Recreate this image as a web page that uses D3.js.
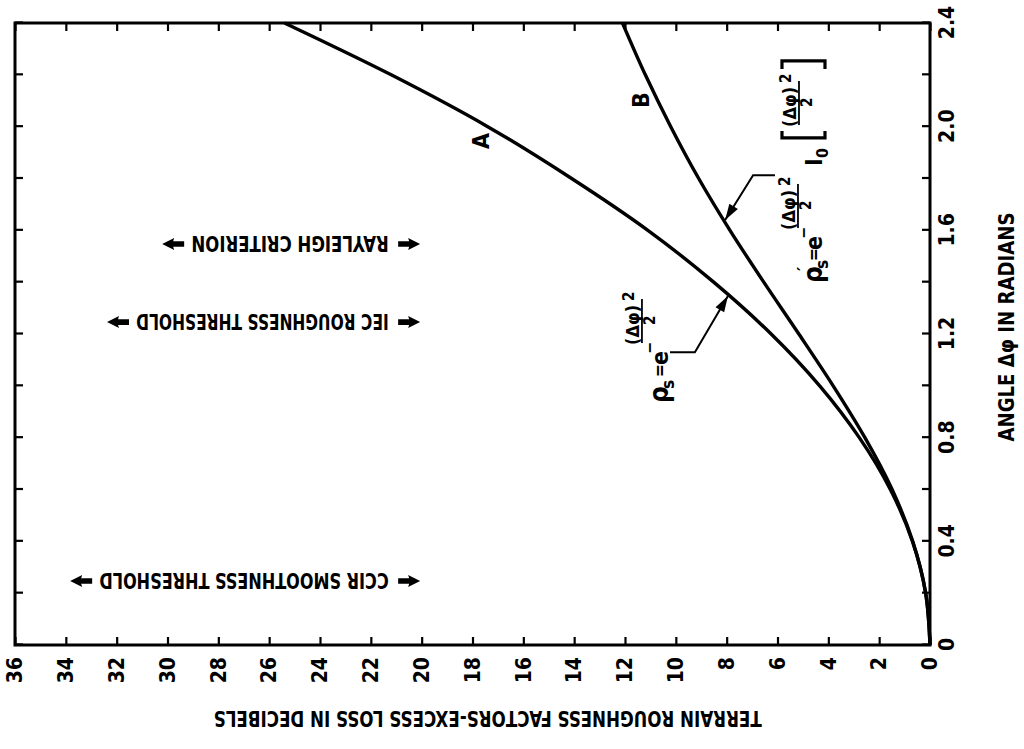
<!DOCTYPE html>
<html>
<head>
<meta charset="utf-8">
<script src="https://cdn.jsdelivr.net/npm/d3@7"></script>
<style>
  body { margin: 0; background: #fff; }
  text { font-family: "Liberation Sans Narrow", "DejaVu Sans Condensed", "Liberation Sans", sans-serif; font-weight: bold; fill: #000; }
</style>
</head>
<body>
<div id="chart"></div>
<script>
// Values (angle in radians, excess loss in dB)
const angle = [0, 0.2, 0.4, 0.6, 0.8, 1.0, 1.2, 1.4, 1.6, 1.8, 2.0, 2.2, 2.4];
const lossA = [0, 0.17, 0.69, 1.56, 2.78, 4.34, 6.25, 8.51, 11.1, 14.1, 17.4, 21.2, 25.4];
const lossB = [0, 0.17, 0.68, 1.49, 2.56, 3.81, 5.16, 6.54, 7.87, 9.10, 10.2, 11.2, 12.1];

const angleTicks = [0, 0.2, 0.4, 0.6, 0.8, 1.0, 1.2, 1.4, 1.6, 1.8, 2.0, 2.2, 2.4];
const angleLabels = [0, 0.4, 0.8, 1.2, 1.6, 2.0, 2.4];
const lossTicks = [0, 2, 4, 6, 8, 10, 12, 14, 16, 18, 20, 22, 24, 26, 28, 30, 32, 34, 36];

// threshold markers: angle where they sit and loss where the upper arrow tip ends
const thresholdNames = ['CCIR SMOOTHNESS THRESHOLD', 'IEC ROUGHNESS THRESHOLD', 'RAYLEIGH CRITERION'];
const thresholdAngles = [0.247, 1.246, 1.547];
const thresholdTips = [33.83, 32.38, 30.21];

// curve labels
const curveNames = ['A', 'B'];
const curveLabelAt = [[1.945, 17.66], [2.103, 11.37]];

// leader lines from the formulas to the curves (angle, loss)
const leaderA = [[1.13, 10.23], [1.13, 9.25], [1.347, 7.95]];
const leaderB = [[1.813, 6.10], [1.813, 6.96], [1.640, 8.06]];

const width = 1024, height = 749;
const W = 622, H = 915;   // angle axis length, loss axis length

const svg = d3.select('#chart').append('svg')
    .attr('width', width)
    .attr('height', height)
    .style('background', '#fff');

// the whole figure is printed turned a quarter turn counter-clockwise
const g = svg.append('g').attr('transform', 'translate(15,645) rotate(-90)');

const x = d3.scaleLinear().domain([0, 2.4]).range([0, W]);
const y = d3.scaleLinear().domain([0, 36]).range([H, 0]);

const fmtAngle = d => d === 0 ? '0' : d3.format('.1f')(d);

// axes with inward ticks on all four sides
g.append('g')
    .attr('transform', `translate(0,${H})`)
    .call(d3.axisBottom(x).tickValues(angleTicks).tickSize(-8).tickPadding(9)
        .tickFormat(d => angleLabels.includes(d) ? fmtAngle(d) : ''));
g.append('g')
    .call(d3.axisTop(x).tickValues(angleTicks).tickSize(-8).tickFormat(''));
g.append('g')
    .call(d3.axisLeft(y).tickValues(lossTicks).tickSize(-8).tickPadding(12));
g.append('g')
    .attr('transform', `translate(${W},0)`)
    .call(d3.axisRight(y).tickValues(lossTicks).tickSize(-8).tickFormat(''));

g.selectAll('.domain').remove();
g.selectAll('.tick line').attr('stroke', '#000').attr('stroke-width', 2.2);
g.selectAll('.tick text').attr('font-size', 21).attr('fill', '#000');

g.append('rect')
    .attr('width', W).attr('height', H)
    .attr('fill', 'none').attr('stroke', '#000').attr('stroke-width', 3);

// axis titles
g.append('text')
    .attr('x', x(1.227)).attr('y', H + 84)
    .attr('text-anchor', 'middle')
    .attr('font-size', 22)
    .attr('textLength', 229).attr('lengthAdjust', 'spacingAndGlyphs')
    .text('ANGLE  \u0394\u03c6  IN RADIANS');

g.append('text')
    .attr('transform', `translate(-73,${y(17.4)}) rotate(-90)`)
    .attr('text-anchor', 'middle')
    .attr('dy', '0.35em')
    .attr('font-size', 21)
    .attr('textLength', 548).attr('lengthAdjust', 'spacingAndGlyphs')
    .text('TERRAIN ROUGHNESS FACTORS-EXCESS LOSS  IN DECIBELS');

// curves
const line = d3.line()
    .x(d => x(d[0]))
    .y(d => y(d[1]))
    .curve(d3.curveMonotoneX);

[lossA, lossB].forEach(vals => {
    g.append('path')
        .datum(angle.map((a, i) => [a, vals[i]]))
        .attr('d', line)
        .attr('fill', 'none')
        .attr('stroke', '#000')
        .attr('stroke-width', 3.4);
});

curveNames.forEach((n, i) => {
    g.append('text')
        .attr('x', x(curveLabelAt[i][0])).attr('y', y(curveLabelAt[i][1]))
        .attr('text-anchor', 'middle').attr('dy', '0.35em')
        .attr('font-size', 23)
        .text(n);
});

// threshold markers: vertical text with arrow darts at both ends
function dart(tx, ty, dir) {
    // tip at (tx,ty), pointing along dir (+1 down, -1 up)
    const p = [[0, 0], [-6, -12], [-2.8, -11], [-2.8, -22], [2.8, -22], [2.8, -11], [6, -12]]
        .map(q => [tx + q[0], ty + dir * q[1]]);
    return 'M' + p.join('L') + 'Z';
}

thresholdNames.forEach((name, i) => {
    const cx = x(thresholdAngles[i]);
    const lo = y(20.06), hi = y(thresholdTips[i]);
    const t0 = y(21.3), t1 = y(thresholdTips[i] - 1.15);
    g.append('path').attr('d', dart(cx, lo, 1)).attr('fill', '#000');
    g.append('path').attr('d', dart(cx, hi, -1)).attr('fill', '#000');
    g.append('text')
        .attr('transform', `translate(${cx},${t0}) rotate(-90)`)
        .attr('dy', '0.36em')
        .attr('font-size', 22)
        .attr('textLength', t0 - t1).attr('lengthAdjust', 'spacingAndGlyphs')
        .text(name);
});

// formulas
function putText(grp, s, dx, dy, size) {
    grp.append('text').attr('x', dx).attr('y', dy).attr('font-size', size).text(s);
}
function fraction(grp, x0, base) {
    putText(grp, '(\u0394\u03c6)', x0, base, 18);
    putText(grp, '2', x0 + 44, base - 5, 15);
    grp.append('line')
        .attr('x1', x0 + 2).attr('x2', x0 + 46)
        .attr('y1', base + 3).attr('y2', base + 3)
        .attr('stroke', '#000').attr('stroke-width', 1.8);
    putText(grp, '2', x0 + 20, base + 16, 15);
}

const fA = g.append('g').attr('transform', `translate(${x(0.934)},${y(10.31)})`);
putText(fA, '\u03c1', 0, 0, 26);
putText(fA, 's', 14, 6, 17);
putText(fA, '=', 26, -2, 17);
putText(fA, 'e', 38, 0, 23);
putText(fA, '\u2212', 49, -13, 16);
fraction(fA, 58, -29);

const fB = g.append('g').attr('transform', `translate(${x(1.397)},${y(4.25)})`);
putText(fB, '\u03c1', 0, 0, 26);
putText(fB, 's', 14, 6, 17);
putText(fB, '\u2032', 12, -12, 18);
putText(fB, '=', 22, -2, 17);
putText(fB, 'e', 33, 0, 23);
putText(fB, '\u2212', 44, -13, 16);
fraction(fB, 53, -27);
putText(fB, 'I', 117, 0, 23);
putText(fB, '0', 125, 6, 16);
fB.append('path').attr('d', 'M152,-40H145V3H152')
    .attr('fill', 'none').attr('stroke', '#000').attr('stroke-width', 3.2);
fraction(fB, 156, -26);
fB.append('path').attr('d', 'M214,-40H222V3H214')
    .attr('fill', 'none').attr('stroke', '#000').attr('stroke-width', 3.2);

// leader lines with filled arrowheads
[leaderA, leaderB].forEach(pts => {
    const p = pts.map(d => [x(d[0]), y(d[1])]);
    g.append('path')
        .attr('d', d3.line()(p))
        .attr('fill', 'none').attr('stroke', '#000').attr('stroke-width', 2);
    const a = p[p.length - 2], b = p[p.length - 1];
    const len = Math.hypot(b[0] - a[0], b[1] - a[1]);
    const ux = (b[0] - a[0]) / len, uy = (b[1] - a[1]) / len;
    const bx = b[0] - 16 * ux, by = b[1] - 16 * uy;
    g.append('path')
        .attr('d', `M${b[0]},${b[1]}L${bx - 5 * uy},${by + 5 * ux}L${bx + 5 * uy},${by - 5 * ux}Z`)
        .attr('fill', '#000');
});
</script>
</body>
</html>
